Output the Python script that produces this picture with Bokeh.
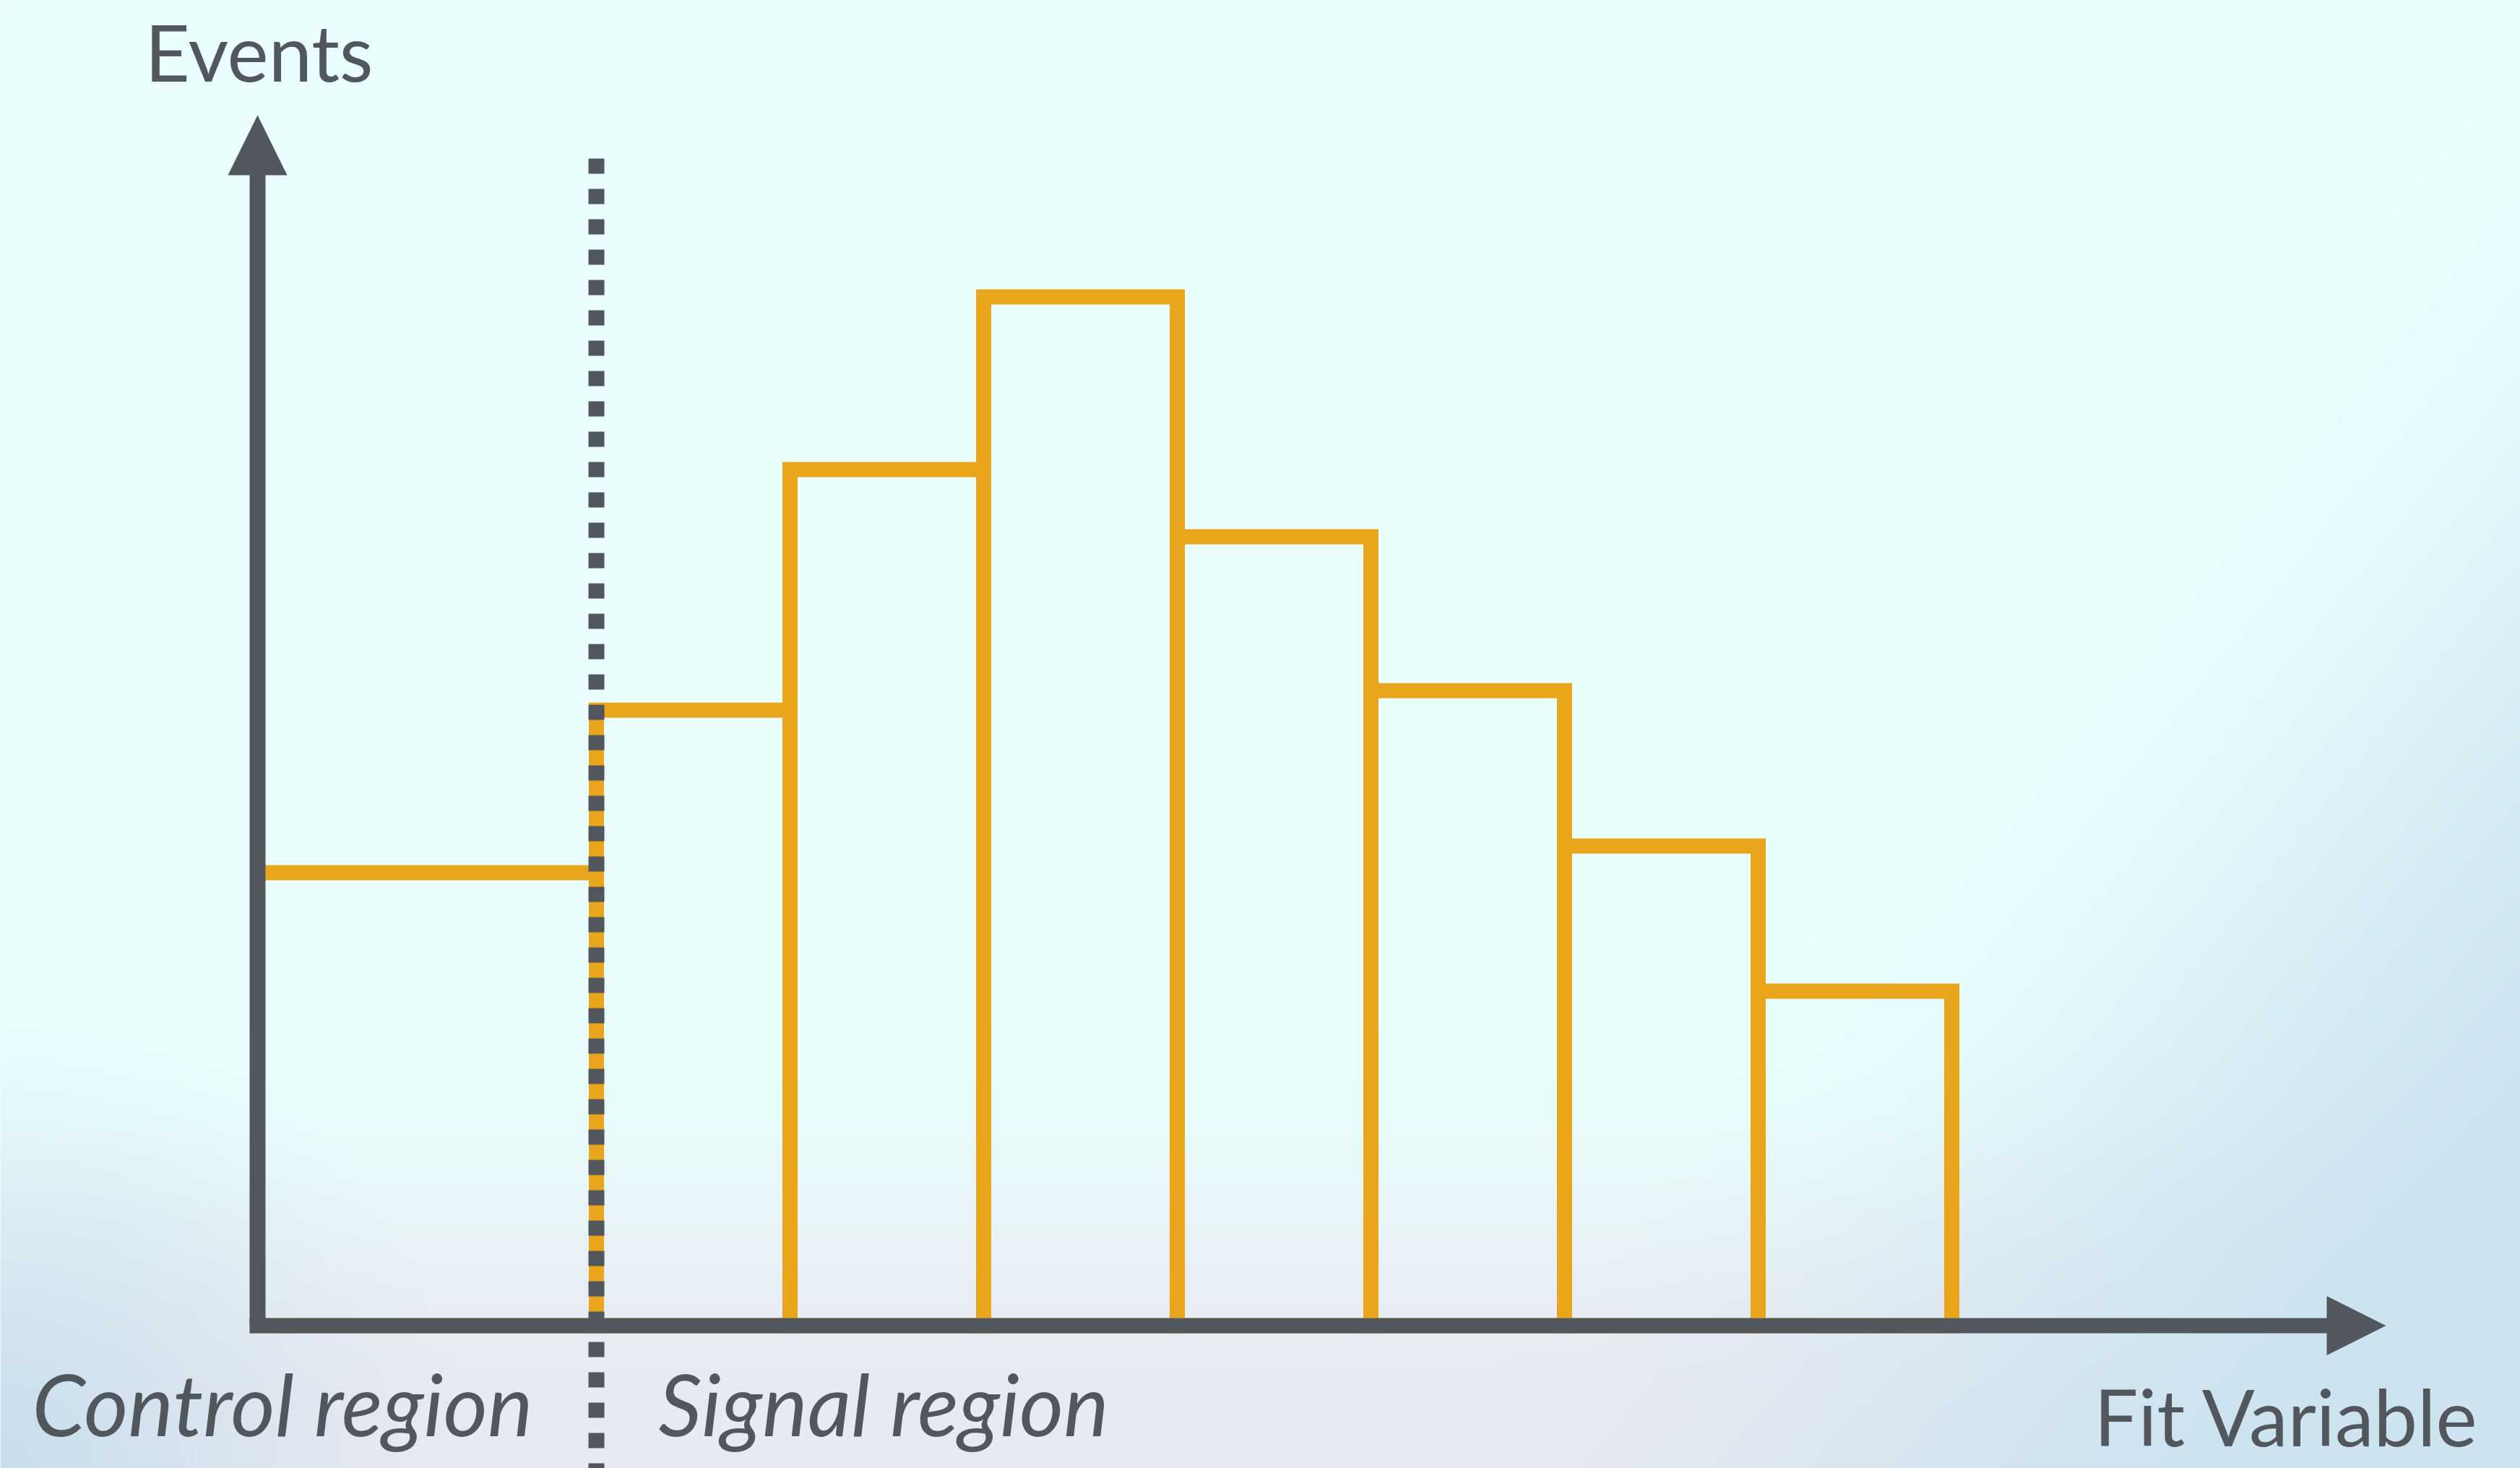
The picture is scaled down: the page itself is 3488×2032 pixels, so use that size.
import numpy as np
from bokeh.plotting import figure
from bokeh.models import Range1d
from bokeh.core.properties import value
from bokeh.embed import file_html
from bokeh.resources import INLINE

# ---- data ----
bin_edges = [0, 1.75, 2.75, 3.75, 4.75, 5.75, 6.75, 7.75, 8.75]   # fit variable
events = [62.7, 85.2, 118.5, 142.4, 109.2, 87.9, 66.4, 46.3]        # events per bin
region_boundary = 1.75
region_labels = ["Control region", "Signal region"]
x_label = "Fit Variable"
y_label = "Events"

# ---- style ----
ORANGE = "#E9A61D"
AXIS = "#52575E"
W, H = 3488, 2032
PX_X, PX_Y = 268.0, 10.0          # pixels per data unit
ORIG_X, ORIG_Y = 356.0, 1834.5    # origin in plot pixels (from top-left)

xmin = -ORIG_X / PX_X
xmax = (W - ORIG_X) / PX_X
ymax = ORIG_Y / PX_Y
ymin = -(H - ORIG_Y) / PX_Y


def dx(px):
    return (px - ORIG_X) / PX_X


def dy(py):
    return (ORIG_Y - py) / PX_Y


p = figure(width=W, height=H, x_range=Range1d(xmin, xmax), y_range=Range1d(ymin, ymax),
           output_backend="svg", toolbar_location=None, min_border=0,
           x_axis_type=None, y_axis_type=None)
p.grid.visible = False
p.outline_line_color = None
p.background_fill_color = "#E9FEFD"
p.border_fill_color = "#E9FEFD"

# ---- background gradient ----
sc = 4
gh, gw = H // sc, W // sc
yy, xx = np.mgrid[0:gh, 0:gw].astype(float)
u = (xx + 0.5) / gw
v = (yy + 0.5) / gh


def smooth(t, a, b):
    t = np.clip((t - a) / (b - a), 0, 1)
    return t * t * (3 - 2 * t)


base = np.array([233, 254, 253], float)
img = np.ones((gh, gw, 3)) * base
w2 = smooth(v, 0.70, 0.97)
img = img * (1 - w2[..., None]) + np.array([232, 234, 241], float) * w2[..., None]
s = (u - 0.62) * 0.75 + (v - 1.0) * 0.35
w1 = smooth(s, -0.05, 0.22)
img = img * (1 - w1[..., None]) + np.array([205, 227, 240], float) * w1[..., None]
d = np.sqrt(((u - 0.0) * W) ** 2 + ((v - 1.0) * H) ** 2)
w3 = np.clip(1 - d / 650.0, 0, 1) ** 1.3
img = img * (1 - w3[..., None]) + np.array([200, 222, 237], float) * w3[..., None]

rgba = np.empty((gh, gw), dtype=np.uint32)
view = rgba.view(dtype=np.uint8).reshape((gh, gw, 4))
view[..., :3] = np.clip(img, 0, 255).astype(np.uint8)
view[..., 3] = 255
rgba = rgba[::-1]
p.image_rgba(image=[rgba], x=xmin, y=ymin, dw=xmax - xmin, dh=ymax - ymin)

# ---- histogram bins ----
p.quad(left=bin_edges[:-1], right=bin_edges[1:], bottom=0, top=events,
       fill_color=None, line_color=ORANGE, line_width=21, line_join="miter")

# ---- region boundary (dotted) ----
p.line([region_boundary, region_boundary], [dy(219), ymin - 5],
       line_color=AXIS, line_width=22, line_dash="21 21")

# ---- axes with arrows ----
y_axis_top = dy(242)
y_tip = dy(159)
x_axis_end = dx(3220)
x_tip = dx(3302)
p.line([0, 0], [0, y_axis_top + 0.5], line_color=AXIS, line_width=22)
p.line([dx(345), x_axis_end + 0.01], [0, 0], line_color=AXIS, line_width=21)
hw_x = 41 / PX_X
hw_y = 41 / PX_Y
p.patch([-hw_x, hw_x, 0], [y_axis_top, y_axis_top, y_tip], fill_color=AXIS, line_color=None)
p.patch([x_axis_end, x_axis_end, x_tip], [-hw_y, hw_y, 0], fill_color=AXIS, line_color=None)

# ---- texts ----
FS = value("108px")
p.text(x=[dx(200)], y=[dy(70)], text=[y_label],
       text_font=value("Lato"), text_font_size=FS, text_color=AXIS,
       text_align="left", text_baseline="alphabetic")
p.text(x=[dx(3432)], y=[dy(1959)], text=[x_label],
       text_font=value("Lato"), text_font_size=FS, text_color=AXIS,
       text_align="right", text_baseline="alphabetic")
p.text(x=[dx(44), dx(911)], y=[dy(1942)] * 2,
       text=region_labels, text_font=value("Lato"), text_font_size=value("118px"),
       text_font_style="italic", text_color=AXIS,
       text_align="left", text_baseline="alphabetic")

open("out.html", "w").write(file_html(p, INLINE))
